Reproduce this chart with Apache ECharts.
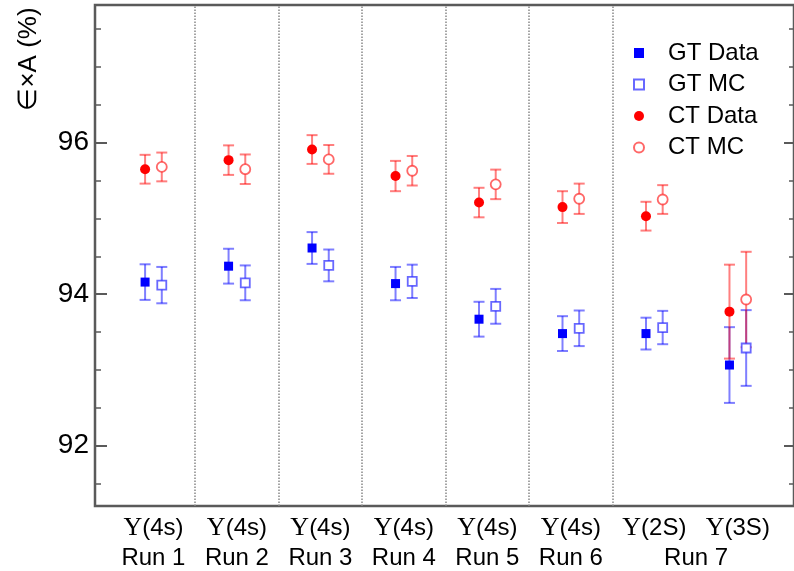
<!DOCTYPE html>
<html>
<head>
<meta charset="utf-8">
<script src="https://cdn.jsdelivr.net/npm/echarts@6/dist/echarts.min.js"></script>
<style>
html,body{margin:0;padding:0;background:#fff;}
#chart{width:794px;height:571px;}
</style>
</head>
<body>
<div id="chart"></div>
<script>
// ---- data ----
var xPositions = [1, 2, 3, 4, 5, 6, 7, 8];
var stateLabels = ['(4s)', '(4s)', '(4s)', '(4s)', '(4s)', '(4s)', '(2S)', '(3S)'];
var runLabels = ['Run 1', 'Run 2', 'Run 3', 'Run 4', 'Run 5', 'Run 6', 'Run 7'];
var runLabelPositions = [1, 2, 3, 4, 5, 6, 7.5];
var separators = [1.5, 2.5, 3.5, 4.5, 5.5, 6.5];

var gtData    = [94.16, 94.37, 94.61, 94.14, 93.67, 93.48, 93.48, 93.065];
var gtDataErr = [0.235, 0.23, 0.21, 0.22, 0.23, 0.23, 0.21, 0.50];
var gtMC      = [94.12, 94.15, 94.38, 94.17, 93.84, 93.55, 93.56, 93.29];
var gtMCErr   = [0.24, 0.23, 0.21, 0.22, 0.23, 0.235, 0.22, 0.50];
var ctData    = [95.65, 95.77, 95.91, 95.56, 95.21, 95.15, 95.03, 93.77];
var ctDataErr = [0.19, 0.195, 0.19, 0.20, 0.195, 0.21, 0.19, 0.62];
var ctMC      = [95.68, 95.65, 95.78, 95.63, 95.45, 95.26, 95.25, 93.93];
var ctMCErr   = [0.19, 0.195, 0.19, 0.195, 0.195, 0.20, 0.19, 0.63];

var yMajorTicks = [92, 94, 96];
var yMinorTicks = [91.5, 92.5, 93, 93.5, 94.5, 95, 95.5, 96.5, 97, 97.5];

var DATA_OFF = -0.1, MC_OFF = 0.1;
var FONT = '"Liberation Sans", Arial, sans-serif';

function pts(vals, off) {
  return vals.map(function (v, i) { return [xPositions[i] + off, v]; });
}
function errPts(vals, errs, off) {
  return vals.map(function (v, i) { return [xPositions[i] + off, v - errs[i], v + errs[i]]; });
}
function errSeries(vals, errs, off, color) {
  return {
    type: 'custom',
    xAxisIndex: 0, yAxisIndex: 0,
    z: 2,
    silent: true,
    data: errPts(vals, errs, off),
    renderItem: function (params, api) {
      var x = api.value(0);
      var lo = api.coord([x, api.value(1)]);
      var hi = api.coord([x, api.value(2)]);
      var hw = 5.5;
      var st = { stroke: color, lineWidth: 2, fill: null };
      return {
        type: 'group',
        children: [
          { type: 'line', shape: { x1: lo[0], y1: lo[1], x2: hi[0], y2: hi[1] }, style: st },
          { type: 'line', shape: { x1: lo[0] - hw, y1: lo[1], x2: lo[0] + hw, y2: lo[1] }, style: st },
          { type: 'line', shape: { x1: hi[0] - hw, y1: hi[1], x2: hi[0] + hw, y2: hi[1] }, style: st }
        ]
      };
    }
  };
}

var BLUE_ERR = 'rgba(0,0,255,0.5)';
var RED_ERR = 'rgba(255,0,0,0.5)';

var chart = echarts.init(document.getElementById('chart'), null, { renderer: 'canvas' });

var xMin = 0.3, xMax = 8.673;
var yMin = 91.204, yMax = 97.818;

function yAxisCfg(pos, values, len, width, labels) {
  return {
    type: 'value', position: pos, min: yMin, max: yMax,
    axisLine: { show: false },
    splitLine: { show: false },
    axisTick: { show: true, inside: true, length: len, customValues: values,
                lineStyle: { color: '#5a5a5a', width: width } },
    axisLabel: labels ? { show: true, customValues: values, margin: 6,
                fontSize: 28, color: '#000', fontFamily: FONT } : { show: false }
  };
}

var option = {
  animation: false,
  backgroundColor: '#fff',
  grid: { left: 95, top: 5, width: 700, height: 501, show: true,
          borderColor: '#5a5a5a', borderWidth: 2.5, backgroundColor: 'transparent' },
  xAxis: [
    {
      type: 'value', position: 'bottom', min: xMin, max: xMax,
      axisLine: { show: false }, axisTick: { show: false }, splitLine: { show: false },
      axisLabel: {
        show: true, customValues: xPositions, margin: 9,
        formatter: function (v) {
          var i = xPositions.indexOf(v);
          return '{u|\u03A5}{t|' + stateLabels[i] + '}';
        },
        rich: {
          u: { fontFamily: '"Liberation Serif", "Times New Roman", serif', fontSize: 26, color: '#000' },
          t: { fontFamily: FONT, fontSize: 24, color: '#000' }
        }
      }
    },
    {
      type: 'value', position: 'bottom', min: xMin, max: xMax,
      axisLine: { show: false }, axisTick: { show: false }, splitLine: { show: false },
      axisLabel: {
        show: true, customValues: runLabelPositions, margin: 40,
        fontFamily: FONT, fontSize: 24, color: '#000',
        formatter: function (v) {
          return runLabels[runLabelPositions.indexOf(v)];
        }
      }
    }
  ],
  yAxis: [
    yAxisCfg('left', yMajorTicks, 12, 2, true),
    yAxisCfg('left', yMinorTicks, 6, 1.5, false),
    yAxisCfg('right', yMajorTicks, 10, 2, false),
    yAxisCfg('right', yMinorTicks, 5, 1.5, false)
  ],
  legend: {
    orient: 'vertical', left: 628, top: 36,
    itemWidth: 10, itemHeight: 10, itemGap: 7.5,
    textStyle: { fontFamily: FONT, fontSize: 24, color: '#000', lineHeight: 24,
                 padding: [0, 0, 0, 19] },
    data: ['GT Data', 'GT MC', 'CT Data', 'CT MC']
  },
  graphic: [
    { type: 'text', x: 29, y: 59, rotation: Math.PI / 2,
      style: { text: '\u2208\u00D7A (%)', font: '26px "Liberation Sans", Arial, sans-serif',
               fill: '#000', align: 'center', verticalAlign: 'middle' } }
  ],
  series: [
    {
      type: 'line', data: [], silent: true,
      markLine: {
        silent: true, symbol: 'none', label: { show: false },
        lineStyle: { color: '#888', type: 'dotted', width: 1.5 },
        data: separators.map(function (s) { return { xAxis: s }; })
      }
    },
    errSeries(gtData, gtDataErr, DATA_OFF, BLUE_ERR),
    errSeries(gtMC, gtMCErr, MC_OFF, BLUE_ERR),
    errSeries(ctData, ctDataErr, DATA_OFF, RED_ERR),
    errSeries(ctMC, ctMCErr, MC_OFF, RED_ERR),
    { name: 'GT Data', type: 'scatter', z: 5, symbol: 'rect', symbolSize: 9,
      itemStyle: { color: '#0000ff', opacity: 1 }, data: pts(gtData, DATA_OFF) },
    { name: 'GT MC', type: 'scatter', z: 5, symbol: 'rect', symbolSize: 9,
      itemStyle: { color: '#ffffff', borderColor: 'rgba(40,40,255,0.7)', borderWidth: 1.8, opacity: 1 },
      data: pts(gtMC, MC_OFF) },
    { name: 'CT Data', type: 'scatter', z: 5, symbol: 'circle', symbolSize: 10,
      itemStyle: { color: '#ff0000', opacity: 1 }, data: pts(ctData, DATA_OFF) },
    { name: 'CT MC', type: 'scatter', z: 5, symbol: 'circle', symbolSize: 10,
      itemStyle: { color: '#ffffff', borderColor: 'rgba(255,40,40,0.7)', borderWidth: 1.8, opacity: 1 },
      data: pts(ctMC, MC_OFF) }
  ]
};
chart.setOption(option);
</script>
</body>
</html>
